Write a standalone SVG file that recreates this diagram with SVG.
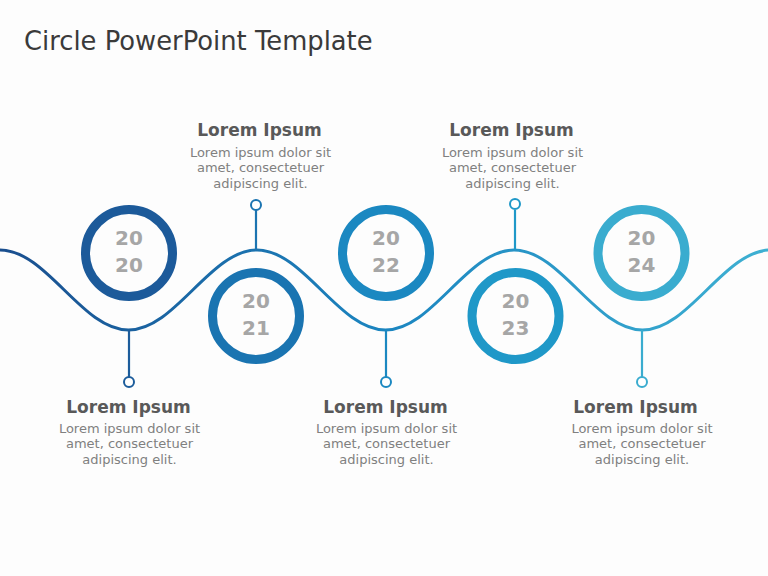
<svg xmlns="http://www.w3.org/2000/svg" width="768" height="576" viewBox="0 0 768 576">
<defs>
<linearGradient id="wg" gradientUnits="userSpaceOnUse" x1="0" y1="0" x2="768" y2="0">
<stop offset="0" stop-color="#1a4e8e"/>
<stop offset="0.5" stop-color="#1b85c0"/>
<stop offset="1" stop-color="#3eb0d2"/>
</linearGradient>
<style>
.ring{fill:none;stroke-width:9}
.yr{font-family:"DejaVu Sans",Verdana,sans-serif;font-weight:bold;font-size:20px;fill:#a6a6a6;text-anchor:middle}
.ttl{font-family:"DejaVu Sans",Verdana,sans-serif;font-weight:bold;font-size:17px;fill:#595959;text-anchor:middle}
.body{font-family:"DejaVu Sans",Verdana,sans-serif;font-size:13px;fill:#808080;text-anchor:middle}
.pin{fill:#fff;stroke-width:2}
.stem{stroke-width:2.2;fill:none}
</style>
</defs>
<rect width="768" height="576" fill="#fdfdfd"/>
<text x="24" y="50" font-family="'DejaVu Sans',Verdana,sans-serif" font-size="25.8" fill="#3a3a3a">Circle PowerPoint Template</text>

<g id="connectors">
<path d="M0,250 C46.8,250 81.7,330 128.5,330 S210.2,250 257,250 S338.7,330 385.5,330 S467.2,250 514,250 S595.7,330 642.5,330 S724.2,250 771,250" fill="none" stroke="url(#wg)" stroke-width="3"/>
<line class="stem" x1="256" y1="250" x2="256" y2="210" stroke="#1b74b1"/>
<circle class="pin" cx="256" cy="205" r="5" stroke="#1b74b1"/>
<line class="stem" x1="515" y1="250" x2="515" y2="210" stroke="#1f98c8"/>
<circle class="pin" cx="515" cy="204" r="5" stroke="#1f98c8"/>
<line class="stem" x1="129" y1="330" x2="129" y2="377" stroke="#1c5c9b"/>
<circle class="pin" cx="129" cy="382" r="5" stroke="#1c5c9b"/>
<line class="stem" x1="386" y1="330" x2="386" y2="377" stroke="#1b88c1"/>
<circle class="pin" cx="386" cy="382" r="5" stroke="#1b88c1"/>
<line class="stem" x1="642" y1="330" x2="642" y2="377" stroke="#3aaccf"/>
<circle class="pin" cx="642" cy="382" r="5" stroke="#3aaccf"/>
</g>

<g id="y2020">
<circle class="ring" cx="129" cy="253" r="43.5" stroke="#1c5a9a" fill="#fff"/>
<text class="yr" x="129" y="245">20</text>
<text class="yr" x="129" y="272">20</text>
</g>
<g id="y2021">
<circle class="ring" cx="256" cy="316" r="43.5" stroke="#1a74b1" fill="#fff"/>
<text class="yr" x="256" y="308">20</text>
<text class="yr" x="256" y="335">21</text>
</g>
<g id="y2022">
<circle class="ring" cx="386" cy="253" r="43.5" stroke="#1b88c1" fill="#fff"/>
<text class="yr" x="386" y="245">20</text>
<text class="yr" x="386" y="272">22</text>
</g>
<g id="y2023">
<circle class="ring" cx="515.5" cy="316" r="43.5" stroke="#1f98c8" fill="#fff"/>
<text class="yr" x="515.5" y="308">20</text>
<text class="yr" x="515.5" y="335">23</text>
</g>
<g id="y2024">
<circle class="ring" cx="641.5" cy="253" r="43.5" stroke="#3aaccf" fill="#fff"/>
<text class="yr" x="641.5" y="245">20</text>
<text class="yr" x="641.5" y="272">24</text>
</g>

<g id="text2020">
<text class="ttl" x="128.5" y="413">Lorem Ipsum</text>
<text class="body" x="129.5" y="433">Lorem ipsum dolor sit</text>
<text class="body" x="129.5" y="448">amet, consectetuer</text>
<text class="body" x="129.5" y="464">adipiscing elit.</text>
</g>
<g id="text2021">
<text class="ttl" x="259.5" y="136">Lorem Ipsum</text>
<text class="body" x="260.5" y="157">Lorem ipsum dolor sit</text>
<text class="body" x="260.5" y="172">amet, consectetuer</text>
<text class="body" x="260.5" y="188">adipiscing elit.</text>
</g>
<g id="text2022">
<text class="ttl" x="385.5" y="413">Lorem Ipsum</text>
<text class="body" x="386.5" y="433">Lorem ipsum dolor sit</text>
<text class="body" x="386.5" y="448">amet, consectetuer</text>
<text class="body" x="386.5" y="464">adipiscing elit.</text>
</g>
<g id="text2023">
<text class="ttl" x="511.5" y="136">Lorem Ipsum</text>
<text class="body" x="512.5" y="157">Lorem ipsum dolor sit</text>
<text class="body" x="512.5" y="172">amet, consectetuer</text>
<text class="body" x="512.5" y="188">adipiscing elit.</text>
</g>
<g id="text2024">
<text class="ttl" x="635.5" y="413">Lorem Ipsum</text>
<text class="body" x="642" y="433">Lorem ipsum dolor sit</text>
<text class="body" x="642" y="448">amet, consectetuer</text>
<text class="body" x="642" y="464">adipiscing elit.</text>
</g>
</svg>
